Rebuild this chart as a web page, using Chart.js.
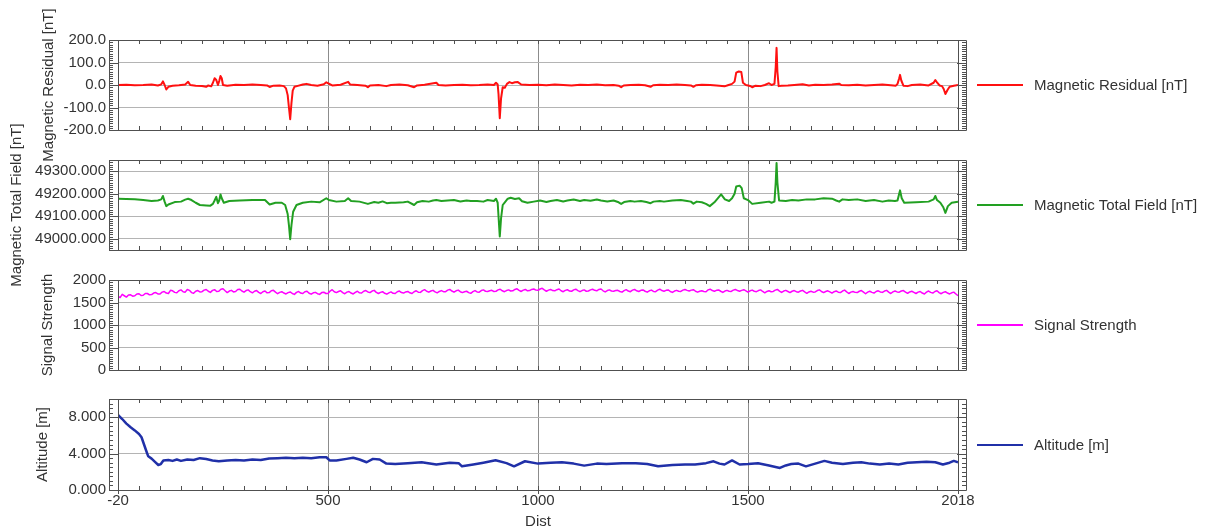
<!DOCTYPE html>
<html>
<head>
<meta charset="utf-8">
<script src="https://cdn.jsdelivr.net/npm/chart.js@4/dist/chart.umd.min.js"></script>
<style>
  html, body { margin: 0; padding: 0; background: #fff; }
  #wrap { position: relative; width: 1210px; height: 531px; overflow: hidden; }
  #wrap canvas { position: absolute; left: 0; top: 0; }
  .leg { position: absolute; left: 977px; height: 18px; font: 15px "Liberation Sans", Arial, sans-serif; color: #333; white-space: nowrap; }
  .leg i { position: absolute; left: 0; top: 8px; width: 46px; height: 2px; }
  .leg span { position: absolute; left: 57px; top: 0; line-height: 18px; }
</style>
</head>
<body>
<div id="wrap">
  <canvas id="c1" width="1210" height="531"></canvas>
  <canvas id="c2" width="1210" height="531"></canvas>
  <canvas id="c3" width="1210" height="531"></canvas>
  <canvas id="c4" width="1210" height="531"></canvas>
  <div class="leg" style="top:76px"><i style="background:#ff1010"></i><span>Magnetic Residual [nT]</span></div>
  <div class="leg" style="top:196px"><i style="background:#22a022"></i><span>Magnetic Total Field [nT]</span></div>
  <div class="leg" style="top:316px"><i style="background:#ff00ff"></i><span>Signal Strength</span></div>
  <div class="leg" style="top:436px"><i style="background:#2030a8"></i><span>Altitude [m]</span></div>
</div>
<script>
// x axis (distance along line)
const xTickValues = [0, 500, 1000, 1500, 2000];
const xTickLabels = ['-20', '500', '1000', '1500', '2018'];

// magnetic residual [nT]
const residualDist = [0, 20, 40, 60, 80, 95, 103, 107, 111, 115, 120, 130, 145, 160, 167, 172, 185, 200, 210, 215, 222, 226, 230, 234, 238, 241, 244, 247, 250, 260, 280, 300, 320, 340, 355, 361, 370, 385, 395, 400, 404, 407, 410, 413, 416, 420, 428, 440, 449, 460, 475, 490, 496, 502, 510, 530, 548, 553, 570, 589, 595, 600, 620, 639, 650, 670, 690, 705, 712, 730, 758, 763, 780, 800, 820, 840, 860, 880, 895, 900, 904, 906, 909, 912, 916, 921, 926, 932, 938, 945, 952, 960, 980, 1000, 1020, 1040, 1060, 1080, 1100, 1120, 1140, 1160, 1180, 1192, 1198, 1204, 1220, 1240, 1255, 1268, 1274, 1290, 1310, 1330, 1350, 1364, 1370, 1376, 1390, 1410, 1425, 1438, 1444, 1452, 1462, 1468, 1472, 1478, 1484, 1488, 1495, 1505, 1510, 1518, 1530, 1540, 1550, 1556, 1563, 1566, 1568, 1570, 1573, 1580, 1595, 1610, 1630, 1645, 1660, 1680, 1700, 1717, 1722, 1740, 1760, 1780, 1800, 1820, 1840, 1852, 1856, 1860, 1862, 1865, 1870, 1880, 1890, 1910, 1930, 1942, 1946, 1950, 1956, 1962, 1966, 1970, 1975, 1980, 1990, 2000];
const residualVals = [0, 1, -1, 0, 2, -2, 3, 16, 0, -20, -8, -3, -1, 2, 14, 0, -3, -4, -8, -2, -6, 10, 30, 22, 0, 18, 40, 30, 0, -3, 1, 0, 2, 0, -2, -9, -3, -2, -5, -15, -45, -100, -152, -80, -25, -8, -4, 2, 5, 0, -3, 3, 12, 6, -2, 1, 14, 2, 0, -3, -10, -2, 0, -5, 0, 2, -1, -10, -2, 1, 10, 0, -2, 0, 1, -1, 0, 2, 0, 10, 2, -40, -148, -60, -10, -12, 5, 13, 8, 12, 13, 2, 0, 1, -1, 2, 0, -2, 1, 0, 2, -1, 0, -3, -10, -2, 0, 1, -1, -8, -1, 1, 0, 2, 0, -2, -8, -1, 1, 0, -2, -4, -6, -1, 5, 15, 55, 60, 58, 10, 0, -4, -10, -3, -5, 0, 8, 0, 5, 80, 165, 60, -5, -3, -2, 0, 3, -2, 1, 0, 2, 6, 0, -1, 1, -2, 0, 2, -1, -3, 5, 30, 45, 20, -3, -5, 0, 2, -2, 10, 22, 12, -2, -5, -18, -40, -22, -8, -3, 0];

// magnetic total field [nT]
const fieldDist = [0, 20, 40, 60, 80, 95, 103, 107, 111, 115, 120, 135, 150, 160, 167, 175, 185, 195, 210, 220, 226, 230, 234, 238, 241, 244, 247, 252, 265, 290, 320, 350, 361, 375, 390, 398, 404, 407, 410, 413, 417, 425, 440, 460, 480, 496, 502, 520, 540, 548, 555, 575, 595, 610, 620, 630, 640, 650, 660, 680, 690, 705, 712, 725, 740, 750, 758, 770, 785, 800, 815, 830, 840, 855, 870, 880, 895, 900, 904, 906, 909, 912, 916, 921, 928, 935, 945, 955, 962, 975, 990, 1005, 1020, 1030, 1045, 1060, 1070, 1085, 1100, 1110, 1125, 1140, 1150, 1165, 1180, 1192, 1198, 1205, 1220, 1230, 1245, 1258, 1268, 1275, 1290, 1300, 1320, 1340, 1355, 1364, 1370, 1378, 1390, 1400, 1409, 1420, 1436, 1445, 1455, 1462, 1468, 1472, 1480, 1485, 1490, 1500, 1510, 1530, 1550, 1556, 1563, 1566, 1568, 1570, 1574, 1590, 1605, 1620, 1640, 1660, 1680, 1700, 1710, 1717, 1725, 1740, 1760, 1780, 1800, 1820, 1835, 1850, 1856, 1860, 1862, 1866, 1872, 1900, 1930, 1942, 1946, 1950, 1958, 1965, 1970, 1976, 1985, 2000];
const fieldVals = [49178, 49177, 49176, 49172, 49168, 49170, 49175, 49190, 49165, 49145, 49152, 49163, 49165, 49174, 49178, 49172, 49160, 49150, 49148, 49147, 49155, 49170, 49186, 49158, 49170, 49197, 49180, 49160, 49168, 49170, 49172, 49172, 49152, 49160, 49160, 49150, 49110, 49060, 48998, 49060, 49120, 49150, 49160, 49165, 49162, 49180, 49172, 49165, 49168, 49180, 49168, 49165, 49155, 49163, 49160, 49166, 49158, 49160, 49160, 49162, 49165, 49150, 49162, 49168, 49165, 49170, 49172, 49168, 49170, 49172, 49166, 49170, 49168, 49168, 49165, 49172, 49168, 49178, 49160, 49100, 49010, 49090, 49150, 49162, 49178, 49182, 49177, 49180, 49167, 49160, 49165, 49170, 49163, 49168, 49172, 49166, 49170, 49174, 49168, 49172, 49169, 49174, 49170, 49166, 49170, 49162, 49155, 49163, 49168, 49165, 49168, 49163, 49158, 49165, 49168, 49165, 49170, 49172, 49168, 49165, 49156, 49165, 49162, 49155, 49145, 49162, 49197, 49175, 49168, 49180, 49200, 49232, 49236, 49225, 49180, 49172, 49155, 49160, 49165, 49160, 49165, 49250, 49337, 49250, 49170, 49168, 49172, 49170, 49175, 49175, 49180, 49178, 49170, 49165, 49175, 49172, 49175, 49168, 49172, 49165, 49170, 49168, 49170, 49200, 49215, 49180, 49160, 49162, 49165, 49175, 49190, 49172, 49160, 49140, 49115, 49145, 49160, 49165];

// signal strength, sampled every 5 m
const signalStep = 5;
const signalVals = [
  1640, 1610, 1680, 1650, 1620, 1665, 1670, 1640, 1650, 1690, 1695, 1655, 1660, 1700, 1700, 1670, 1675, 1710, 1720, 1690,
  1690, 1730, 1745, 1710, 1700, 1770, 1760, 1725, 1715, 1760, 1780, 1740, 1730, 1790, 1770, 1720, 1705, 1750, 1765, 1735,
  1740, 1775, 1790, 1750, 1725, 1770, 1785, 1745, 1750, 1795, 1805, 1760, 1720, 1755, 1770, 1735, 1745, 1790, 1795, 1755,
  1730, 1765, 1780, 1740, 1715, 1750, 1765, 1725, 1700, 1740, 1755, 1715, 1720, 1760, 1770, 1730, 1695, 1725, 1740, 1710,
  1690, 1720, 1735, 1700, 1680, 1725, 1745, 1710, 1700, 1740, 1750, 1705, 1685, 1715, 1725, 1695, 1680, 1720, 1730, 1700,
  1700, 1755, 1785, 1740, 1720, 1745, 1760, 1720, 1695, 1730, 1745, 1710, 1690, 1725, 1750, 1715, 1710, 1750, 1765, 1735,
  1720, 1755, 1770, 1725, 1700, 1725, 1740, 1705, 1685, 1715, 1735, 1705, 1700, 1740, 1755, 1720, 1710, 1735, 1745, 1715,
  1700, 1740, 1760, 1730, 1725, 1765, 1785, 1750, 1730, 1755, 1770, 1735, 1715, 1745, 1765, 1740, 1740, 1775, 1790, 1755,
  1730, 1760, 1775, 1740, 1720, 1740, 1750, 1720, 1705, 1740, 1765, 1735, 1730, 1765, 1780, 1750, 1745, 1760, 1770, 1745,
  1750, 1780, 1795, 1760, 1740, 1765, 1780, 1755, 1760, 1790, 1805, 1770, 1745, 1775, 1790, 1760, 1765, 1790, 1800, 1775,
  1770, 1800, 1815, 1780, 1750, 1775, 1790, 1765, 1760, 1785, 1800, 1760, 1740, 1770, 1785, 1755, 1750, 1780, 1795, 1765,
  1740, 1765, 1780, 1750, 1755, 1780, 1795, 1770, 1760, 1790, 1800, 1760, 1735, 1765, 1780, 1755, 1750, 1765, 1770, 1745,
  1730, 1765, 1785, 1755, 1740, 1775, 1790, 1760, 1745, 1770, 1780, 1750, 1730, 1760, 1775, 1745, 1740, 1775, 1795, 1765,
  1750, 1770, 1780, 1745, 1725, 1755, 1770, 1750, 1745, 1775, 1790, 1770, 1755, 1775, 1785, 1750, 1730, 1750, 1760, 1745,
  1740, 1780, 1795, 1765, 1750, 1770, 1780, 1750, 1725, 1755, 1770, 1750, 1745, 1775, 1790, 1765, 1750, 1770, 1785, 1760,
  1730, 1760, 1775, 1750, 1740, 1765, 1780, 1745, 1715, 1745, 1760, 1740, 1745, 1775, 1790, 1755, 1725, 1755, 1770, 1745,
  1720, 1750, 1765, 1740, 1730, 1755, 1770, 1735, 1705, 1735, 1750, 1730, 1735, 1765, 1780, 1745, 1720, 1745, 1760, 1735,
  1710, 1740, 1755, 1730, 1720, 1755, 1775, 1735, 1700, 1730, 1745, 1725, 1720, 1750, 1765, 1730, 1695, 1730, 1750, 1725,
  1710, 1745, 1760, 1735, 1725, 1755, 1770, 1730, 1700, 1735, 1755, 1735, 1730, 1755, 1765, 1730, 1705, 1735, 1750, 1725,
  1700, 1730, 1745, 1710, 1690, 1730, 1755, 1725, 1710, 1745, 1760, 1720, 1695, 1725, 1740, 1710, 1690, 1715, 1730, 1690,
  1650
];

// altitude [m]
const altDist = [0, 10, 20, 30, 40, 50, 56, 62, 68, 72, 80, 88, 96, 102, 108, 120, 130, 140, 150, 165, 180, 195, 210, 225, 240, 260, 280, 300, 320, 340, 360, 380, 400, 420, 440, 460, 480, 496, 504, 520, 544, 560, 575, 592, 607, 623, 639, 660, 690, 723, 758, 790, 811, 819, 846, 870, 899, 925, 943, 969, 1000, 1030, 1057, 1085, 1110, 1140, 1163, 1200, 1233, 1260, 1286, 1320, 1350, 1374, 1400, 1418, 1432, 1444, 1462, 1480, 1500, 1524, 1550, 1576, 1590, 1603, 1620, 1638, 1660, 1682, 1700, 1726, 1750, 1770, 1790, 1814, 1836, 1858, 1880, 1902, 1925, 1946, 1964, 1980, 1990, 2000];
const altVals = [8.25, 7.8, 7.3, 6.9, 6.55, 6.15, 5.8, 5.0, 4.2, 3.7, 3.45, 3.1, 2.75, 2.85, 3.25, 3.3, 3.2, 3.35, 3.2, 3.35, 3.3, 3.5, 3.4, 3.25, 3.15, 3.25, 3.3, 3.25, 3.35, 3.3, 3.45, 3.5, 3.55, 3.5, 3.55, 3.5, 3.6, 3.6, 3.25, 3.25, 3.42, 3.55, 3.35, 3.05, 3.42, 3.35, 2.9, 2.85, 2.95, 3.05, 2.8, 3.0, 2.95, 2.6, 2.8, 3.0, 3.27, 2.95, 2.6, 3.16, 2.9, 3.0, 3.05, 2.9, 2.68, 2.9, 2.85, 2.95, 2.95, 2.85, 2.6, 2.75, 2.8, 2.8, 2.95, 3.15, 2.9, 2.8, 3.25, 2.8, 2.85, 2.95, 2.7, 2.42, 2.7, 2.85, 2.9, 2.6, 2.9, 3.2, 3.0, 2.85, 3.0, 3.05, 2.9, 2.8, 2.9, 2.8, 3.0, 3.05, 3.1, 3.05, 2.8, 3.0, 3.2, 3.05];

// y tick values for each panel
const residualTicks = [-200, -100, 0, 100, 200];
const fieldTicks = [49000, 49100, 49200, 49300];
const signalTicks = [0, 500, 1000, 1500, 2000];
const altTicks = [0, 4, 8];

const PLOT_LEFT = 118, PLOT_RIGHT = 958;

Chart.defaults.font.family = '"Liberation Sans", Arial, sans-serif';
Chart.defaults.font.size = 15;
Chart.defaults.color = '#333';

// frame with ruler-style minor ticks around each plot
const framePlugin = {
  id: 'frame',
  afterDraw(chart, args, opts) {
    const { ctx, chartArea: a, scales } = chart;
    const x = scales.x, y = scales.y;
    const L = a.left - 9, R = a.right + 8;
    ctx.save();
    ctx.strokeStyle = '#505050';
    ctx.lineWidth = 1;
    ctx.beginPath();
    ctx.rect(L + 0.5, Math.round(a.top) + 0.5, R - L, Math.round(a.bottom - a.top));
    ctx.moveTo(a.left + 0.5, a.top); ctx.lineTo(a.left + 0.5, a.bottom);
    ctx.moveTo(a.right + 0.5, a.top); ctx.lineTo(a.right + 0.5, a.bottom);
    // minor y ticks
    const n = Math.round((y.max - y.min) / opts.minor);
    const start = Math.ceil(y.min / opts.minor) * opts.minor;
    for (let i = 0; i <= n; i++) {
      const v = start + i * opts.minor;
      if (v > y.max) break;
      const py = Math.round(y.getPixelForValue(v)) + 0.5;
      const major = Math.abs(v / opts.major - Math.round(v / opts.major)) < 1e-6;
      const len = major ? 9 : 4;
      ctx.moveTo(L, py); ctx.lineTo(L + len, py);
      ctx.moveTo(R, py); ctx.lineTo(R - len, py);
    }
    // minor x ticks every 50
    for (let d = 0; d <= 2000; d += 50) {
      const px = Math.round(x.getPixelForValue(d)) + 0.5;
      ctx.moveTo(px, a.top); ctx.lineTo(px, a.top + 4);
      ctx.moveTo(px, a.bottom); ctx.lineTo(px, a.bottom - 4);
      if (opts.xLabels && xTickValues.includes(d)) {
        ctx.moveTo(px, a.bottom); ctx.lineTo(px, a.bottom + 4);
      }
    }
    ctx.stroke();
    ctx.restore();
  }
};

function makePanel(id, cfg) {
  const points = cfg.dist.map((d, i) => ({ x: d, y: cfg.vals[i] }));
  return new Chart(document.getElementById(id), {
    type: 'line',
    data: {
      datasets: [{
        label: cfg.label,
        data: points,
        borderColor: cfg.color,
        borderWidth: cfg.width,
        borderJoinStyle: 'round',
        pointRadius: 0,
        tension: 0,
        fill: false
      }]
    },
    options: {
      responsive: false,
      animation: false,
      events: [],
      layout: { padding: { top: cfg.top, bottom: 0, left: cfg.titleLeft, right: 1210 - PLOT_RIGHT } },
      plugins: {
        legend: { display: false },
        tooltip: { enabled: false },
        frame: { minor: cfg.minor, major: cfg.major, xLabels: cfg.xLabels }
      },
      scales: {
        x: {
          type: 'linear',
          min: 0,
          max: 2000,
          afterBuildTicks: s => { s.ticks = xTickValues.map(v => ({ value: v })); },
          afterFit: s => { s.height = 531 - cfg.bottom; },
          border: { display: false },
          grid: {
            drawTicks: false,
            color: c => (c.tick && c.tick.value > 0 && c.tick.value < 2000) ? '#8c8c8c' : 'rgba(0,0,0,0)'
          },
          ticks: {
            display: cfg.xLabels,
            padding: 2,
            maxRotation: 0,
            autoSkip: false,
            callback: v => xTickLabels[xTickValues.indexOf(v)]
          },
          title: {
            display: cfg.xLabels,
            text: 'Dist',
            padding: { top: 0, bottom: 0 },
            color: '#333'
          }
        },
        y: {
          min: cfg.min,
          max: cfg.max,
          afterBuildTicks: s => { s.ticks = cfg.ticks.map(v => ({ value: v })); },
          afterFit: s => { s.width = PLOT_LEFT - cfg.titleLeft; },
          border: { display: false },
          grid: { drawTicks: false, color: '#b4b4b4' },
          ticks: {
            padding: 12,
            autoSkip: false,
            callback: v => v.toFixed(cfg.digits)
          },
          title: {
            display: true,
            text: cfg.title,
            padding: { top: 0, bottom: 0 },
            color: '#333'
          }
        }
      }
    },
    plugins: [framePlugin]
  });
}

makePanel('c1', {
  label: 'Magnetic Residual [nT]', title: 'Magnetic Residual [nT]',
  dist: residualDist, vals: residualVals, color: '#ff1010', width: 2,
  min: -200, max: 200, ticks: residualTicks, digits: 1, minor: 10, major: 100,
  top: 40, bottom: 130, titleLeft: 40, xLabels: false
});

makePanel('c2', {
  label: 'Magnetic Total Field [nT]', title: 'Magnetic Total Field [nT]',
  dist: fieldDist, vals: fieldVals, color: '#22a022', width: 2,
  min: 48950, max: 49350, ticks: fieldTicks, digits: 3, minor: 10, major: 100,
  top: 160, bottom: 250, titleLeft: 8, xLabels: false
});

makePanel('c3', {
  label: 'Signal Strength', title: 'Signal Strength',
  dist: signalVals.map((v, i) => i * signalStep), vals: signalVals, color: '#ff00ff', width: 1.5,
  min: 0, max: 2000, ticks: signalTicks, digits: 0, minor: 50, major: 500,
  top: 280, bottom: 370, titleLeft: 39, xLabels: false
});

makePanel('c4', {
  label: 'Altitude [m]', title: 'Altitude [m]',
  dist: altDist, vals: altVals, color: '#2030a8', width: 2.5,
  min: 0, max: 10, ticks: altTicks, digits: 3, minor: 0.5, major: 4,
  top: 399, bottom: 490, titleLeft: 34, xLabels: true
});
</script>
</body>
</html>
